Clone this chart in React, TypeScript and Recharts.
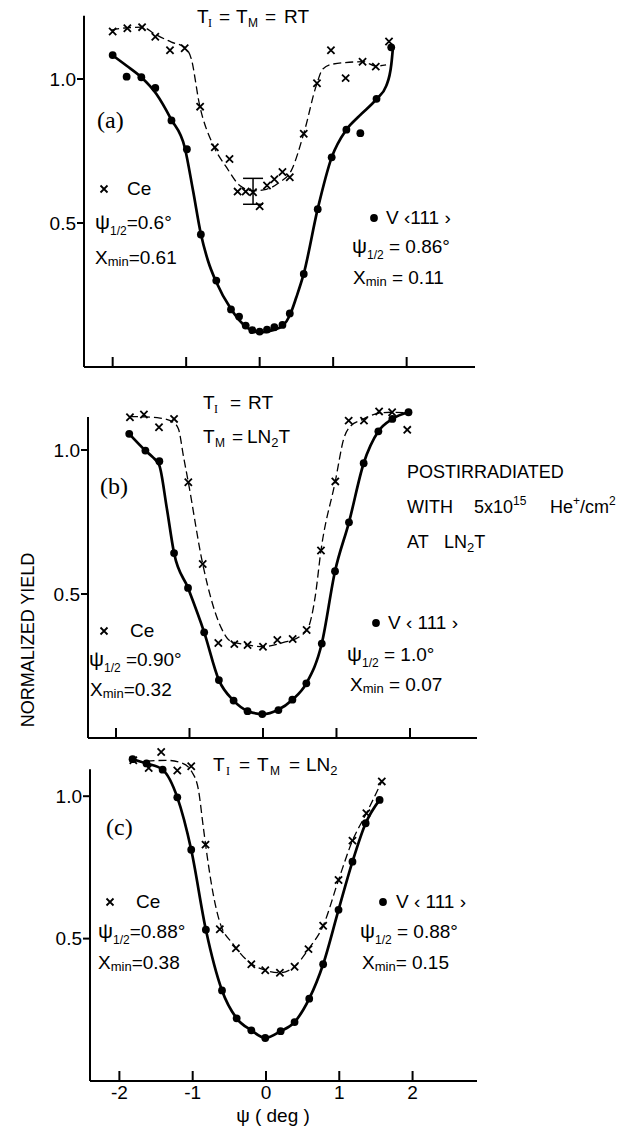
import React from 'react';
import { ComposedChart, Line, Scatter, XAxis, YAxis, ErrorBar, ReferenceLine } from 'recharts';

// ---------- data (x = psi in deg, y = normalized yield) ----------
const xTicks = [-2, -1, 0, 1, 2];
const xTickLabels = ['-2', '-1', '0', '1', '2'];
const yTicks = [0.5, 1.0];
const yTickLabels = ['0.5', '1.0'];

// Panel (a): TI = TM = RT
const vPointsA = [
  [-2.0, 1.083], [-1.81, 1.008], [-1.61, 1.006], [-1.42, 0.969], [-1.2, 0.856], [-0.99, 0.756],
  [-0.8, 0.46], [-0.59, 0.3], [-0.39, 0.2], [-0.28, 0.175], [-0.19, 0.144], [-0.1, 0.128],
  [0.0, 0.123], [0.1, 0.13], [0.2, 0.138], [0.31, 0.146], [0.41, 0.186], [0.6, 0.323],
  [0.79, 0.548], [0.98, 0.728], [1.18, 0.824], [1.37, 0.812], [1.59, 0.931], [1.79, 1.11],
];
const cePointsA = [
  [-2.0, 1.165], [-1.8, 1.176], [-1.6, 1.18], [-1.42, 1.147], [-1.22, 1.1], [-1.02, 1.107],
  [-0.81, 0.904], [-0.61, 0.763], [-0.41, 0.722], [-0.3, 0.609], [-0.19, 0.609], [-0.09, 0.607],
  [0.0, 0.558], [0.1, 0.63], [0.2, 0.652], [0.31, 0.677], [0.41, 0.659], [0.6, 0.81],
  [0.78, 0.985], [0.97, 1.1], [1.17, 1.003], [1.4, 1.06], [1.58, 1.043], [1.76, 1.13],
];
const vCurveA = [
  [-2.005, 1.083], [-1.81, 1.046], [-1.61, 1.006], [-1.405, 0.948], [-1.206, 0.861], [-1.02, 0.763],
  [-0.906, 0.612], [-0.798, 0.46], [-0.703, 0.369], [-0.589, 0.294], [-0.39, 0.201], [-0.18, 0.138],
  [0.0, 0.12], [0.18, 0.128], [0.317, 0.144], [0.408, 0.178], [0.499, 0.242], [0.599, 0.323],
  [0.789, 0.548], [0.98, 0.728], [1.179, 0.824], [1.36, 0.873], [1.592, 0.931], [1.724, 0.977],
  [1.792, 1.052], [1.814, 1.11],
];
const ceCurveA = [
  [-2.02, 1.17], [-1.8, 1.178], [-1.6, 1.18], [-1.42, 1.155], [-1.2, 1.128], [-1.02, 1.11],
  [-0.93, 1.07], [-0.82, 0.913], [-0.63, 0.769], [-0.45, 0.693], [-0.27, 0.63], [-0.09, 0.612],
  [0.09, 0.617], [0.27, 0.641], [0.43, 0.682], [0.61, 0.82], [0.77, 0.977], [0.86, 1.035],
  [1.0, 1.052], [1.41, 1.06], [1.58, 1.045], [1.72, 1.049],
];
const ceErrorA = [[-0.09, 0.61, 0.045]];

// Panel (b): TI = RT, TM = LN2T
const vPointsB = [
  [-1.82, 1.056], [-1.6, 0.998], [-1.41, 0.961], [-1.21, 0.642], [-1.02, 0.521], [-0.8, 0.367],
  [-0.6, 0.201], [-0.4, 0.13], [-0.21, 0.093], [-0.01, 0.083], [0.21, 0.097], [0.4, 0.133],
  [0.59, 0.19], [0.8, 0.328], [0.98, 0.579], [1.17, 0.749], [1.37, 0.954], [1.57, 1.065],
  [1.76, 1.108], [1.98, 1.131],
];
const cePointsB = [
  [-1.81, 1.114], [-1.62, 1.123], [-1.415, 1.079], [-1.21, 1.108], [-1.016, 0.888], [-0.82, 0.604],
  [-0.608, 0.33], [-0.39, 0.326], [-0.21, 0.323], [0.0, 0.317], [0.195, 0.34], [0.404, 0.344],
  [0.594, 0.375], [0.789, 0.651], [0.984, 0.891], [1.166, 1.102], [1.374, 1.102], [1.58, 1.134],
  [1.757, 1.131], [1.963, 1.07],
];
const vCurveB = [
  [-1.82, 1.056], [-1.6, 0.998], [-1.5, 0.975], [-1.41, 0.946], [-1.31, 0.8], [-1.21, 0.642],
  [-1.02, 0.521], [-0.8, 0.367], [-0.6, 0.201], [-0.4, 0.13], [-0.2, 0.093], [0.0, 0.083],
  [0.2, 0.097], [0.4, 0.133], [0.59, 0.19], [0.8, 0.328], [0.98, 0.579], [1.17, 0.749],
  [1.37, 0.954], [1.57, 1.065], [1.76, 1.108], [1.98, 1.131],
];
const ceCurveB = [
  [-1.81, 1.116], [-1.6, 1.115], [-1.4, 1.111], [-1.22, 1.096], [-1.15, 1.073], [-1.08, 0.975],
  [-1.016, 0.888], [-0.82, 0.604], [-0.56, 0.378], [-0.45, 0.338], [-0.21, 0.323], [0.0, 0.317],
  [0.28, 0.332], [0.5, 0.352], [0.617, 0.384], [0.71, 0.49], [0.789, 0.651], [0.984, 0.891],
  [1.1, 1.04], [1.2, 1.085], [1.32, 1.102], [1.58, 1.128], [1.76, 1.131], [1.96, 1.129],
];

// Panel (c): TI = TM = LN2
const vPointsC = [
  [-1.82, 1.13], [-1.63, 1.115], [-1.41, 1.093], [-1.21, 0.996], [-1.02, 0.812], [-0.82, 0.531],
  [-0.6, 0.318], [-0.4, 0.22], [-0.2, 0.178], [-0.01, 0.151], [0.2, 0.175], [0.39, 0.207],
  [0.59, 0.289], [0.78, 0.41], [0.99, 0.601], [1.18, 0.77], [1.36, 0.905], [1.55, 0.987],
];
const cePointsC = [
  [-1.81, 1.126], [-1.6, 1.099], [-1.43, 1.155], [-1.21, 1.09], [-1.02, 1.105], [-0.825, 0.83],
  [-0.63, 0.533], [-0.41, 0.466], [-0.2, 0.41], [-0.01, 0.389], [0.19, 0.38], [0.39, 0.401],
  [0.58, 0.463], [0.78, 0.545], [0.99, 0.706], [1.18, 0.844], [1.37, 0.94], [1.58, 1.052],
];
const vCurveC = vPointsC;
const ceCurveC = [
  [-1.63, 1.123], [-1.36, 1.126], [-1.15, 1.117], [-1.01, 1.085], [-0.92, 1.02], [-0.855, 0.891],
  [-0.787, 0.762], [-0.72, 0.656], [-0.628, 0.556], [-0.446, 0.48], [-0.218, 0.415], [-0.01, 0.389],
  [0.19, 0.38], [0.37, 0.398], [0.6, 0.47], [0.78, 0.545], [0.99, 0.706], [1.18, 0.844],
  [1.37, 0.94], [1.58, 1.052],
];

// ---------- helpers ----------
const FONT = "'Liberation Sans', Arial, Helvetica, sans-serif";
const SERIF = "'Liberation Serif', 'Times New Roman', serif";
const FS = 19;
const toXY = (a: number[][]) => a.map(([x, y]) => ({ x, y }));

const CrossShape = (props: any) => {
  const { cx, cy } = props;
  if (cx == null || cy == null) return <g />;
  const s = 3.6;
  return (
    <path
      d={`M${cx - s},${cy - s}L${cx + s},${cy + s}M${cx + s},${cy - s}L${cx - s},${cy + s}`}
      stroke="#000"
      strokeWidth={1.8}
      fill="none"
    />
  );
};
const DotShape = (props: any) => {
  const { cx, cy } = props;
  if (cx == null || cy == null) return <g />;
  return <circle cx={cx} cy={cy} r={3.9} fill="#000" />;
};
const EmptyShape = () => <g />;

const makeXTick = (show: boolean) => (props: any) => {
  const { x, y, payload } = props;
  const i = xTicks.indexOf(payload.value);
  const base = y - 1;
  return (
    <g>
      <line x1={x} x2={x} y1={base} y2={base - 9} stroke="#000" strokeWidth={2} />
      {show && (
        <text x={x} y={base + 19} textAnchor="middle" fontSize={FS} fontFamily={FONT} fill="#000">
          {xTickLabels[i]}
        </text>
      )}
    </g>
  );
};

type PanelProps = {
  top: number;
  height: number;
  margin: { top: number; right: number; bottom: number; left: number };
  xDom: [number, number];
  axisTop: number;
  vPts: number[][];
  cePts: number[][];
  vCurve: number[][];
  ceCurve: number[][];
  showXLabels: boolean;
  errPts?: number[][];
};

const Panel = (p: PanelProps) => (
  <div style={{ position: 'absolute', left: 0, top: p.top, width: 634, height: p.height }}>
    <ComposedChart width={634} height={p.height} margin={p.margin}>
      <XAxis
        type="number"
        dataKey="x"
        domain={p.xDom}
        allowDataOverflow
        ticks={xTicks}
        interval={0}
        height={1}
        axisLine={{ stroke: '#000', strokeWidth: 2 }}
        tickLine={false}
        tickSize={0}
        tickMargin={0}
        tick={makeXTick(p.showXLabels)}
      />
      <YAxis
        type="number"
        dataKey="y"
        domain={[0, 1.25]}
        allowDataOverflow
        ticks={yTicks}
        interval={0}
        width={1}
        axisLine={false}
        tickLine={{ stroke: '#000', strokeWidth: 2 }}
        tickSize={7}
        tickMargin={1}
        tickFormatter={(v: number) => yTickLabels[yTicks.indexOf(v)]}
        tick={{ fill: '#000', fontSize: FS, fontFamily: FONT }}
      />
      <ReferenceLine
        segment={[{ x: p.xDom[0], y: 0 }, { x: p.xDom[0], y: p.axisTop }]}
        stroke="#000"
        strokeWidth={2}
        ifOverflow="visible"
      />
      <Line
        data={toXY(p.ceCurve)}
        dataKey="y"
        type="monotone"
        stroke="#000"
        strokeWidth={1.3}
        strokeDasharray="8 4"
        dot={false}
        activeDot={false}
        isAnimationActive={false}
      />
      <Line
        data={toXY(p.vCurve)}
        dataKey="y"
        type="monotone"
        stroke="#000"
        strokeWidth={2.7}
        dot={false}
        activeDot={false}
        isAnimationActive={false}
      />
      <Scatter data={toXY(p.cePts)} dataKey="y" shape={CrossShape} isAnimationActive={false} />
      <Scatter data={toXY(p.vPts)} dataKey="y" shape={DotShape} isAnimationActive={false} />
      {p.errPts && (
        <Scatter
          data={p.errPts.map(([x, y, err]) => ({ x, y, err }))}
          dataKey="y"
          shape={EmptyShape}
          isAnimationActive={false}
        >
          <ErrorBar dataKey="err" direction="y" width={10} stroke="#000" strokeWidth={1.5} />
        </Scatter>
      )}
    </ComposedChart>
  </div>
);

const Psi = ({ x, y, rest }: { x: number; y: number; rest: string }) => (
  <text x={x} y={y} fontSize={FS} fontFamily={FONT} fill="#000">
    <tspan fontSize={21}>ψ</tspan>
    <tspan fontSize={12} dy={6}>1/2</tspan>
    <tspan dy={-6}>{rest}</tspan>
  </text>
);
const Chi = ({ x, y, rest }: { x: number; y: number; rest: string }) => (
  <text x={x} y={y} fontSize={FS} fontFamily={FONT} fill="#000">
    X<tspan fontSize={13} dy={2}>min</tspan>
    <tspan dy={-2}>{rest}</tspan>
  </text>
);
const LegendCross = ({ x, y }: { x: number; y: number }) => (
  <path d={`M${x - 3.5},${y - 3.5}L${x + 3.5},${y + 3.5}M${x + 3.5},${y - 3.5}L${x - 3.5},${y + 3.5}`} stroke="#000" strokeWidth={1.8} />
);
const LegendDot = ({ x, y }: { x: number; y: number }) => <circle cx={x} cy={y} r={3.9} fill="#000" />;

const Overlay = () => (
  <svg width={634} height={1128} style={{ position: 'absolute', left: 0, top: 0, pointerEvents: 'none' }}>
    {/* y-axis label */}
    <text transform="translate(34,640) rotate(-90)" textAnchor="middle" fontSize={18} fontFamily={FONT} fill="#000">
      NORMALIZED YIELD
    </text>

    {/* panel a */}
    <text y={23} fontSize={FS} fontFamily={FONT} fill="#000">
      <tspan x={197}>T</tspan>
      <tspan x={208} fontSize={12} dy={4} fontFamily={SERIF}>I</tspan>
      <tspan x={219} dy={-4}>=</tspan>
      <tspan x={236}>T</tspan>
      <tspan x={248} fontSize={12} dy={4}>M</tspan>
      <tspan x={265} dy={-4}>=</tspan>
      <tspan x={284}>RT</tspan>
    </text>
    <text x={97} y={128} fontSize={24} fontFamily={SERIF} fill="#000">(a)</text>
    <LegendCross x={104} y={189} />
    <text x={127} y={195} fontSize={FS} fontFamily={FONT} fill="#000">Ce</text>
    <Psi x={95} y={229} rest="=0.6°" />
    <Chi x={95} y={264} rest="=0.61" />
    <LegendDot x={374} y={218} />
    <text x={386} y={224} fontSize={FS} fontFamily={FONT} fill="#000">V ‹111 ›</text>
    <Psi x={352} y={253} rest=" = 0.86°" />
    <Chi x={353} y={284} rest=" = 0.11" />

    {/* panel b */}
    <text y={409} fontSize={FS} fontFamily={FONT} fill="#000">
      <tspan x={203}>T</tspan>
      <tspan x={214} fontSize={12} dy={4} fontFamily={SERIF}>I</tspan>
      <tspan x={230} dy={-4}>=</tspan>
      <tspan x={248}>RT</tspan>
    </text>
    <text y={443} fontSize={FS} fontFamily={FONT} fill="#000">
      <tspan x={203}>T</tspan>
      <tspan x={215} fontSize={12} dy={4}>M</tspan>
      <tspan x={232} dy={-4}>=</tspan>
      <tspan x={247}>LN</tspan>
      <tspan fontSize={13} dy={4}>2</tspan>
      <tspan dy={-4}>T</tspan>
    </text>
    <text x={100} y={494} fontSize={24} fontFamily={SERIF} fill="#000">(b)</text>
    <LegendCross x={104} y={631} />
    <text x={130} y={637} fontSize={FS} fontFamily={FONT} fill="#000">Ce</text>
    <Psi x={89} y={666} rest=" =0.90°" />
    <Chi x={90} y={696} rest="=0.32" />
    <LegendDot x={376} y={623} />
    <text x={388} y={629} fontSize={FS} fontFamily={FONT} fill="#000">V ‹ 111 ›</text>
    <Psi x={347} y={661} rest=" = 1.0°" />
    <Chi x={350} y={691} rest=" = 0.07" />
    <text x={407} y={478} fontSize={18} fontFamily={FONT} fill="#000">POSTIRRADIATED</text>
    <text y={513} fontSize={18} fontFamily={FONT} fill="#000">
      <tspan x={407}>WITH</tspan>
      <tspan x={474}>5x10</tspan>
      <tspan fontSize={12} dy={-8}>15</tspan>
      <tspan x={550} dy={8}>He</tspan>
      <tspan fontSize={12} dy={-8}>+</tspan>
      <tspan dy={8}>/cm</tspan>
      <tspan fontSize={12} dy={-8}>2</tspan>
    </text>
    <text y={548} fontSize={18} fontFamily={FONT} fill="#000">
      <tspan x={407}>AT</tspan>
      <tspan x={444}>LN</tspan>
      <tspan fontSize={13} dy={4}>2</tspan>
      <tspan dy={-4}>T</tspan>
    </text>

    {/* panel c */}
    <text y={771} fontSize={FS} fontFamily={FONT} fill="#000">
      <tspan x={213}>T</tspan>
      <tspan x={226} fontSize={12} dy={4} fontFamily={SERIF}>I</tspan>
      <tspan x={239} dy={-4}>=</tspan>
      <tspan x={257}>T</tspan>
      <tspan x={270} fontSize={12} dy={4}>M</tspan>
      <tspan x={289} dy={-4}>=</tspan>
      <tspan x={306}>LN</tspan>
      <tspan fontSize={13} dy={4}>2</tspan>
    </text>
    <text x={106} y={835} fontSize={24} fontFamily={SERIF} fill="#000">(c)</text>
    <LegendCross x={110} y={902} />
    <text x={136} y={908} fontSize={FS} fontFamily={FONT} fill="#000">Ce</text>
    <Psi x={98} y={938} rest="=0.88°" />
    <Chi x={98} y={969} rest="=0.38" />
    <LegendDot x={383} y={902} />
    <text x={396} y={908} fontSize={FS} fontFamily={FONT} fill="#000">V ‹ 111 ›</text>
    <Psi x={360} y={938} rest=" = 0.88°" />
    <Chi x={362} y={969} rest="= 0.15" />
    <text x={273} y={1122} textAnchor="middle" fontSize={FS} fontFamily={FONT} fill="#000">ψ ( deg )</text>
  </svg>
);

export default function App() {
  return (
    <div style={{ position: 'absolute', left: 0, top: 0, width: 634, height: 1128, background: '#fff' }}>
      <Panel
        top={0}
        height={380}
        margin={{ top: 7, right: 159, bottom: 12, left: 83 }}
        xDom={[-2.39, 2.93]}
        axisTop={1.22}
        vPts={vPointsA}
        cePts={cePointsA}
        vCurve={vCurveA}
        ceCurve={ceCurveA}
        errPts={ceErrorA}
        showXLabels={false}
      />
      <Panel
        top={370}
        height={380}
        margin={{ top: 8, right: 157, bottom: 11, left: 87 }}
        xDom={[-2.381, 2.912]}
        axisTop={1.115}
        vPts={vPointsB}
        cePts={cePointsB}
        vCurve={vCurveB}
        ceCurve={ceCurveB}
        showXLabels={false}
      />
      <Panel
        top={715}
        height={413}
        margin={{ top: 10, right: 157, bottom: 46, left: 89 }}
        xDom={[-2.401, 2.879]}
        axisTop={1.095}
        vPts={vPointsC}
        cePts={cePointsC}
        vCurve={vCurveC}
        ceCurve={ceCurveC}
        showXLabels={true}
      />
      <Overlay />
    </div>
  );
}
